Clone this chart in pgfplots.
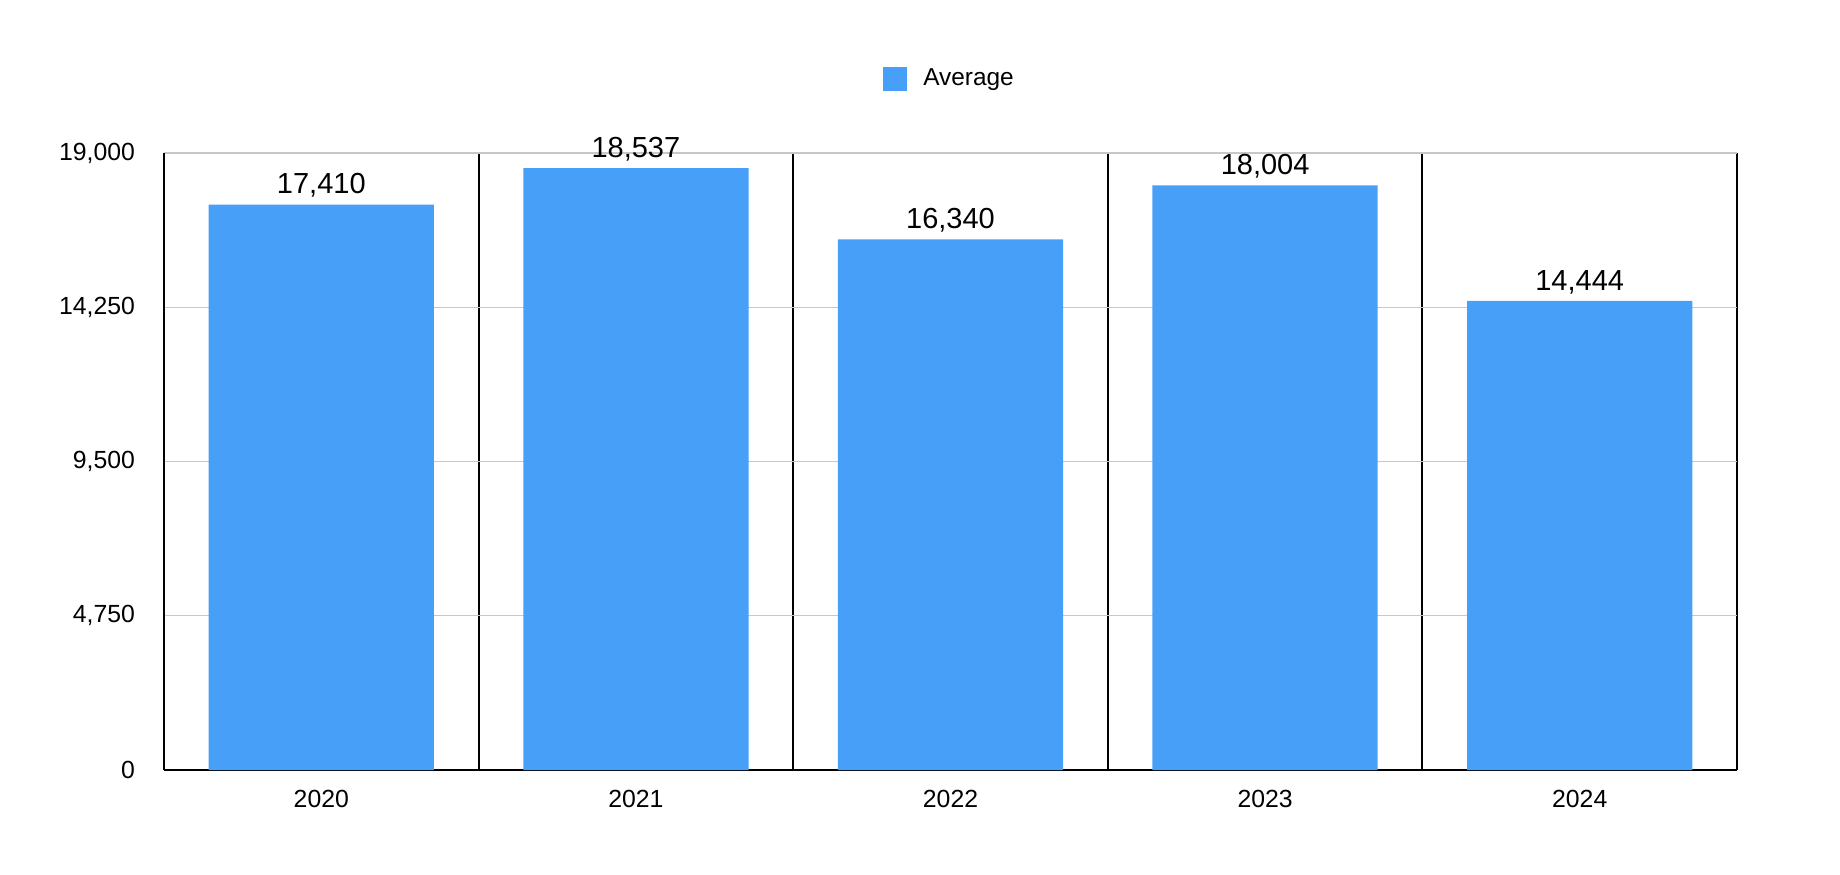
\documentclass[border=0pt]{standalone}
\usepackage{pgfplots}
\pgfplotsset{compat=1.18}
\usepackage{fontspec}
\setmainfont{Liberation Sans}
\definecolor{barblue}{RGB}{71,159,248}
\definecolor{gridgray}{RGB}{200,200,200}
\begin{document}
\begin{tikzpicture}
\path[use as bounding box] (0pt,0pt) rectangle (920pt,437pt);
\begin{axis}[
  at={(82pt,52pt)}, anchor=south west,
  scale only axis,
  width=786.5pt, height=308.5pt,
  xmin=-0.5, xmax=4.5,
  ymin=0, ymax=19000,
  axis lines*=left,
  axis line style={black, line width=1pt},
  xtick={0,1,2,3,4},
  xticklabels={2020,2021,2022,2023,2024},
  ytick={0,4750,9500,14250,19000},
  minor xtick={-0.5,0.5,1.5,2.5,3.5,4.5},
  xminorgrids, minor x grid style={black, line width=1pt},
  ymajorgrids, major y grid style={gridgray, line width=0.6pt},
  major tick length=0pt, minor tick length=0pt,
  scaled y ticks=false,
  /pgf/number format/assume math mode=true,
  /pgf/number format/1000 sep={,},
  /pgf/number format/fixed,
  y tick label style={font=\fontsize{12.4}{14}\selectfont, xshift=-11pt},
  x tick label style={font=\fontsize{12.4}{14}\selectfont, yshift=-6.5pt},
  ybar, bar width=0.716,
  nodes near coords,
  every node near coord/.append style={font=\fontsize{14.5}{17}\selectfont, yshift=0pt},
  legend style={at={(0.5,1.12)}, anchor=center, draw=none, font=\fontsize{12.2}{14}\selectfont},
  legend image code/.code={\fill[barblue] (0pt,-6pt) rectangle (12pt,6pt); \path (18pt,0pt);},
  clip=false,
]
\addplot[fill=barblue, draw=none] coordinates {(0,17410) (1,18537) (2,16340) (3,18004) (4,14444)};
\addlegendentry{Average}
\end{axis}
\end{tikzpicture}
\end{document}
